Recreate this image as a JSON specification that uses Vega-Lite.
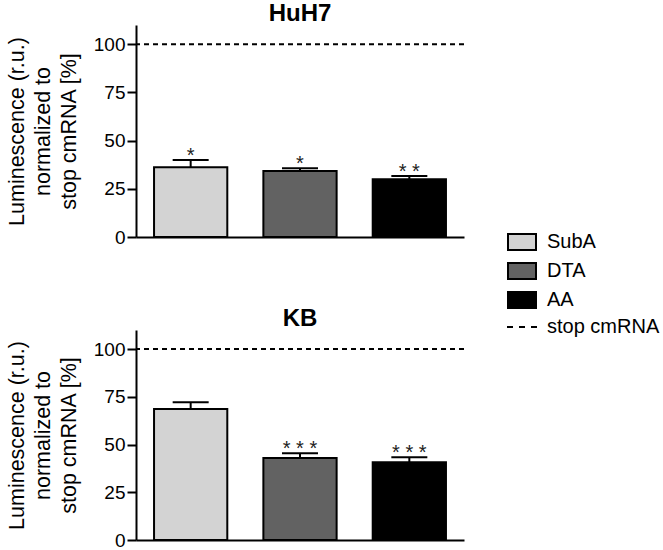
{
  "$schema": "https://vega.github.io/schema/vega-lite/v6.json",
  "padding": {"left": 6, "top": 2, "right": 0, "bottom": 0},
  "background": "white",
  "config": {
    "font": "Liberation Sans",
    "view": {"stroke": null},
    "title": {"fontSize": 24, "fontWeight": "bold", "color": "black", "offset": -1, "anchor": "middle"},
    "axis": {"grid": false, "domainColor": "black", "domainWidth": 2, "tickColor": "black", "tickWidth": 2},
    "concat": {"spacing": 60}
  },
  "datasets": {
    "bars": [
      {"cell": "HuH7", "group": "SubA", "mean": 36.2, "upper": 40.0, "sig": "*"},
      {"cell": "HuH7", "group": "DTA", "mean": 34.3, "upper": 35.7, "sig": "*"},
      {"cell": "HuH7", "group": "AA", "mean": 30.0, "upper": 31.7, "sig": "* *"},
      {"cell": "KB", "group": "SubA", "mean": 68.6, "upper": 72.1, "sig": ""},
      {"cell": "KB", "group": "DTA", "mean": 42.9, "upper": 45.4, "sig": "* * *"},
      {"cell": "KB", "group": "AA", "mean": 40.7, "upper": 43.3, "sig": "* * *"}
    ],
    "ref": [
      {"cell": "HuH7", "ref": 100},
      {"cell": "KB", "ref": 100}
    ]
  },
  "vconcat": [
    {
      "title": "HuH7",
      "width": 328,
      "height": 212,
      "encoding": {
        "x": {"field": "group", "type": "nominal", "sort": ["SubA", "DTA", "AA"], "scale": {"paddingInner": 0.33, "paddingOuter": 0.165}, "axis": {"labels": false, "ticks": false, "title": null, "domainWidth": 2, "domainColor": "black"}}
      },
      "layer": [
        {
          "data": {"name": "bars"},
          "transform": [{"filter": "datum.cell === 'HuH7'"}],
          "mark": {"type": "rule", "strokeWidth": 2, "color": "black"},
          "encoding": {
            "y": {"field": "mean", "type": "quantitative", "scale": {"domain": [0, 110], "nice": false, "zero": true},
              "axis": {"title": ["Luminescence (r.u.)", "normalized to", "stop cmRNA [%]"], "values": [0, 25, 50, 75, 100], "labelFontSize": 19, "labelColor": "black", "tickSize": 9, "labelPadding": 2, "titleFontSize": 21.5, "titleFontWeight": "normal", "titleColor": "black", "titleLineHeight": 26, "titlePadding": 13, "domainWidth": 2, "tickWidth": 2, "domainColor": "black", "tickColor": "black", "grid": false}},
            "y2": {"field": "upper"}
          }
        },
        {
          "data": {"name": "bars"},
          "transform": [{"filter": "datum.cell === 'HuH7'"}],
          "mark": {"type": "bar", "stroke": "black", "strokeWidth": 2},
          "encoding": {
            "y": {"field": "mean", "type": "quantitative", "scale": {"domain": [0, 110], "nice": false, "zero": true},
              "axis": {"title": ["Luminescence (r.u.)", "normalized to", "stop cmRNA [%]"], "values": [0, 25, 50, 75, 100], "labelFontSize": 19, "labelColor": "black", "tickSize": 9, "labelPadding": 2, "titleFontSize": 21.5, "titleFontWeight": "normal", "titleColor": "black", "titleLineHeight": 26, "titlePadding": 13, "domainWidth": 2, "tickWidth": 2, "domainColor": "black", "tickColor": "black", "grid": false}},
            "fill": {"field": "group", "type": "nominal", "scale": {"domain": ["SubA", "DTA", "AA", "stop cmRNA"], "range": ["#d3d3d3", "#626262", "#000000", "transparent"]},
              "legend": {"title": null, "orient": "none", "legendX": 376, "legendY": 207, "symbolSize": 256, "labelFontSize": 20, "labelColor": "black", "labelOffset": 15, "rowPadding": 5, "symbolStrokeColor": "black", "symbolStrokeWidth": 2, "encode": {"symbols": {"update": {"stroke": {"value": "black"}, "strokeWidth": {"value": 2}, "opacity": {"value": 1}}}}}}
          }
        },
        {
          "data": {"name": "bars"},
          "transform": [{"filter": "datum.cell === 'HuH7'"}],
          "mark": {"type": "tick", "orient": "horizontal", "size": 36, "thickness": 2, "color": "black", "opacity": 1},
          "encoding": {
            "y": {"field": "upper", "type": "quantitative", "scale": {"domain": [0, 110], "nice": false, "zero": true},
              "axis": {"title": ["Luminescence (r.u.)", "normalized to", "stop cmRNA [%]"], "values": [0, 25, 50, 75, 100], "labelFontSize": 19, "labelColor": "black", "tickSize": 9, "labelPadding": 2, "titleFontSize": 21.5, "titleFontWeight": "normal", "titleColor": "black", "titleLineHeight": 26, "titlePadding": 13, "domainWidth": 2, "tickWidth": 2, "domainColor": "black", "tickColor": "black", "grid": false}}
          }
        },
        {
          "data": {"name": "bars"},
          "transform": [{"filter": "datum.cell === 'HuH7'"}],
          "mark": {"type": "text", "fontSize": 20, "color": "#222222", "baseline": "alphabetic", "dy": 2},
          "encoding": {
            "y": {"field": "upper", "type": "quantitative", "scale": {"domain": [0, 110], "nice": false, "zero": true},
              "axis": {"title": ["Luminescence (r.u.)", "normalized to", "stop cmRNA [%]"], "values": [0, 25, 50, 75, 100], "labelFontSize": 19, "labelColor": "black", "tickSize": 9, "labelPadding": 2, "titleFontSize": 21.5, "titleFontWeight": "normal", "titleColor": "black", "titleLineHeight": 26, "titlePadding": 13, "domainWidth": 2, "tickWidth": 2, "domainColor": "black", "tickColor": "black", "grid": false}},
            "text": {"field": "sig"}
          }
        },
        {
          "data": {"name": "ref"},
          "transform": [{"filter": "datum.cell === 'HuH7'"}],
          "mark": {"type": "rule", "strokeDash": [5, 4], "strokeWidth": 2, "color": "black"},
          "encoding": {
            "x": null,
            "y": {"field": "ref", "type": "quantitative", "scale": {"domain": [0, 110], "nice": false, "zero": true},
              "axis": {"title": ["Luminescence (r.u.)", "normalized to", "stop cmRNA [%]"], "values": [0, 25, 50, 75, 100], "labelFontSize": 19, "labelColor": "black", "tickSize": 9, "labelPadding": 2, "titleFontSize": 21.5, "titleFontWeight": "normal", "titleColor": "black", "titleLineHeight": 26, "titlePadding": 13, "domainWidth": 2, "tickWidth": 2, "domainColor": "black", "tickColor": "black", "grid": false}}
          }
        },
        {
          "data": {"name": "bars"},
          "transform": [{"filter": "false"}],
          "mark": {"type": "point", "filled": true, "opacity": 1, "stroke": "black", "strokeWidth": 2, "size": 256},
          "encoding": {
            "fill": {"field": "group", "type": "nominal", "scale": {"domain": ["SubA", "DTA", "AA", "stop cmRNA"], "range": ["#d3d3d3", "#626262", "#000000", "transparent"]},
              "legend": {"title": null, "orient": "none", "legendX": 376, "legendY": 207, "symbolSize": 256, "labelFontSize": 20, "labelColor": "black", "labelOffset": 15, "rowPadding": 5, "symbolStrokeColor": "black", "symbolStrokeWidth": 2, "encode": {"symbols": {"update": {"stroke": {"value": "black"}, "strokeWidth": {"value": 2}, "opacity": {"value": 1}}}}}},
            "shape": {"field": "group", "type": "nominal", "scale": {"domain": ["SubA", "DTA", "AA", "stop cmRNA"], "range": ["M-1.75,-1H1.75V1H-1.75Z", "M-1.75,-1H1.75V1H-1.75Z", "M-1.75,-1H1.75V1H-1.75Z", "M-1.875,0H-1.125M-0.375,0H0.375M1.125,0H1.875"]},
              "legend": {"title": null, "orient": "none", "legendX": 376, "legendY": 207, "symbolSize": 256, "labelFontSize": 20, "labelColor": "black", "labelOffset": 15, "rowPadding": 5, "symbolStrokeColor": "black", "symbolStrokeWidth": 2, "encode": {"symbols": {"update": {"stroke": {"value": "black"}, "strokeWidth": {"value": 2}, "opacity": {"value": 1}}}}}}
          }
        }
      ]
    },
    {
      "title": "KB",
      "width": 328,
      "height": 210,
      "encoding": {
        "x": {"field": "group", "type": "nominal", "sort": ["SubA", "DTA", "AA"], "scale": {"paddingInner": 0.33, "paddingOuter": 0.165}, "axis": {"labels": false, "ticks": false, "title": null, "domainWidth": 2, "domainColor": "black"}}
      },
      "layer": [
        {
          "data": {"name": "bars"},
          "transform": [{"filter": "datum.cell === 'KB'"}],
          "mark": {"type": "rule", "strokeWidth": 2, "color": "black"},
          "encoding": {
            "y": {"field": "mean", "type": "quantitative", "scale": {"domain": [0, 110], "nice": false, "zero": true},
              "axis": {"title": ["Luminescence (r.u.)", "normalized to", "stop cmRNA [%]"], "values": [0, 25, 50, 75, 100], "labelFontSize": 19, "labelColor": "black", "tickSize": 9, "labelPadding": 2, "titleFontSize": 21.5, "titleFontWeight": "normal", "titleColor": "black", "titleLineHeight": 26, "titlePadding": 13, "domainWidth": 2, "tickWidth": 2, "domainColor": "black", "tickColor": "black", "grid": false}},
            "y2": {"field": "upper"}
          }
        },
        {
          "data": {"name": "bars"},
          "transform": [{"filter": "datum.cell === 'KB'"}],
          "mark": {"type": "bar", "stroke": "black", "strokeWidth": 2},
          "encoding": {
            "y": {"field": "mean", "type": "quantitative", "scale": {"domain": [0, 110], "nice": false, "zero": true},
              "axis": {"title": ["Luminescence (r.u.)", "normalized to", "stop cmRNA [%]"], "values": [0, 25, 50, 75, 100], "labelFontSize": 19, "labelColor": "black", "tickSize": 9, "labelPadding": 2, "titleFontSize": 21.5, "titleFontWeight": "normal", "titleColor": "black", "titleLineHeight": 26, "titlePadding": 13, "domainWidth": 2, "tickWidth": 2, "domainColor": "black", "tickColor": "black", "grid": false}},
            "fill": {"field": "group", "type": "nominal", "scale": {"domain": ["SubA", "DTA", "AA", "stop cmRNA"], "range": ["#d3d3d3", "#626262", "#000000", "transparent"]},
              "legend": {"title": null, "orient": "none", "legendX": 376, "legendY": 207, "symbolSize": 256, "labelFontSize": 20, "labelColor": "black", "labelOffset": 15, "rowPadding": 5, "symbolStrokeColor": "black", "symbolStrokeWidth": 2, "encode": {"symbols": {"update": {"stroke": {"value": "black"}, "strokeWidth": {"value": 2}, "opacity": {"value": 1}}}}}}
          }
        },
        {
          "data": {"name": "bars"},
          "transform": [{"filter": "datum.cell === 'KB'"}],
          "mark": {"type": "tick", "orient": "horizontal", "size": 36, "thickness": 2, "color": "black", "opacity": 1},
          "encoding": {
            "y": {"field": "upper", "type": "quantitative", "scale": {"domain": [0, 110], "nice": false, "zero": true},
              "axis": {"title": ["Luminescence (r.u.)", "normalized to", "stop cmRNA [%]"], "values": [0, 25, 50, 75, 100], "labelFontSize": 19, "labelColor": "black", "tickSize": 9, "labelPadding": 2, "titleFontSize": 21.5, "titleFontWeight": "normal", "titleColor": "black", "titleLineHeight": 26, "titlePadding": 13, "domainWidth": 2, "tickWidth": 2, "domainColor": "black", "tickColor": "black", "grid": false}}
          }
        },
        {
          "data": {"name": "bars"},
          "transform": [{"filter": "datum.cell === 'KB'"}],
          "mark": {"type": "text", "fontSize": 20, "color": "#222222", "baseline": "alphabetic", "dy": 2},
          "encoding": {
            "y": {"field": "upper", "type": "quantitative", "scale": {"domain": [0, 110], "nice": false, "zero": true},
              "axis": {"title": ["Luminescence (r.u.)", "normalized to", "stop cmRNA [%]"], "values": [0, 25, 50, 75, 100], "labelFontSize": 19, "labelColor": "black", "tickSize": 9, "labelPadding": 2, "titleFontSize": 21.5, "titleFontWeight": "normal", "titleColor": "black", "titleLineHeight": 26, "titlePadding": 13, "domainWidth": 2, "tickWidth": 2, "domainColor": "black", "tickColor": "black", "grid": false}},
            "text": {"field": "sig"}
          }
        },
        {
          "data": {"name": "ref"},
          "transform": [{"filter": "datum.cell === 'KB'"}],
          "mark": {"type": "rule", "strokeDash": [5, 4], "strokeWidth": 2, "color": "black"},
          "encoding": {
            "x": null,
            "y": {"field": "ref", "type": "quantitative", "scale": {"domain": [0, 110], "nice": false, "zero": true},
              "axis": {"title": ["Luminescence (r.u.)", "normalized to", "stop cmRNA [%]"], "values": [0, 25, 50, 75, 100], "labelFontSize": 19, "labelColor": "black", "tickSize": 9, "labelPadding": 2, "titleFontSize": 21.5, "titleFontWeight": "normal", "titleColor": "black", "titleLineHeight": 26, "titlePadding": 13, "domainWidth": 2, "tickWidth": 2, "domainColor": "black", "tickColor": "black", "grid": false}}
          }
        }
      ]
    }
  ]
}
